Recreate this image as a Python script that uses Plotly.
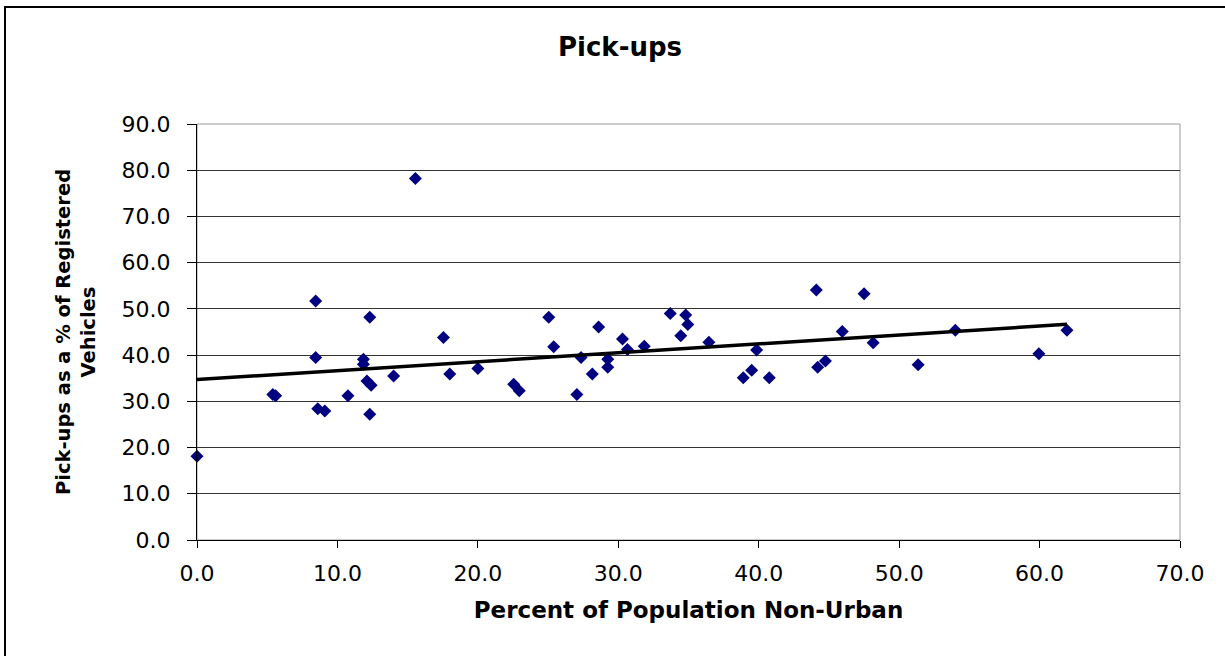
import numpy as np
import plotly.graph_objects as go

# Percent of population living outside urban areas, by state
pct_non_urban = [0.0, 5.4, 5.6, 8.45, 8.45, 8.6, 9.1, 10.75, 11.85, 11.85,
                 12.1, 12.4, 12.3, 12.3, 14.0, 15.55, 17.55, 18.0, 20.0, 22.55,
                 22.95, 25.05, 25.4, 27.05, 27.35, 28.15, 28.6, 29.25, 29.25, 30.3,
                 30.65, 31.85, 33.7, 34.45, 34.8, 34.95, 36.45, 38.9, 39.5, 39.85,
                 40.75, 44.1, 44.2, 44.75, 45.95, 47.5, 48.15, 51.35, 54.0, 59.95,
                 61.95]
# Pick-ups as a share of registered vehicles
pickup_share = [18.1, 31.5, 31.2, 51.7, 39.5, 28.4, 27.9, 31.2, 39.1, 38.0,
                34.4, 33.5, 48.2, 27.2, 35.5, 78.2, 43.8, 35.9, 37.1, 33.7,
                32.3, 48.2, 41.8, 31.5, 39.5, 35.9, 46.1, 39.1, 37.4, 43.5,
                41.2, 41.9, 49.0, 44.2, 48.7, 46.6, 42.8, 35.1, 36.7, 41.1,
                35.1, 54.1, 37.4, 38.7, 45.1, 53.3, 42.7, 37.9, 45.4, 40.3,
                45.4]

x_ticks = [0, 10, 20, 30, 40, 50, 60, 70]
y_ticks = [0, 10, 20, 30, 40, 50, 60, 70, 80, 90]

# Linear least-squares trend over the data range
slope, intercept = np.polyfit(pct_non_urban, pickup_share, 1)
trend_x = [0.0, max(pct_non_urban)]
trend_y = [intercept + slope * v for v in trend_x]

FONT = "DejaVu Sans"
W, H = 1225, 656
L, R, T, B = 197, 45, 124, 116
pw, ph = W - L - R, H - T - B

fig = go.Figure()
fig.add_trace(go.Scatter(
    x=pct_non_urban, y=pickup_share, mode="markers",
    marker=dict(symbol="diamond", size=10, color="#000080",
                line=dict(width=0)),
    cliponaxis=False, showlegend=False, hoverinfo="x+y",
))
fig.add_trace(go.Scatter(
    x=trend_x, y=trend_y, mode="lines",
    line=dict(color="black", width=3.5),
    showlegend=False, hoverinfo="skip",
))

fig.update_layout(
    width=W, height=H,
    margin=dict(l=L, r=R, t=T, b=B, autoexpand=False),
    paper_bgcolor="white", plot_bgcolor="white",
    font=dict(family=FONT, color="black"),
    title=dict(text="<b>Pick-ups</b>", x=620 / W, xref="container", xanchor="center",
               y=1 - 47 / H, yref="container", yanchor="middle",
               font=dict(family=FONT, size=26, color="black")),
    xaxis=dict(
        range=[0, 70], tickvals=x_ticks, ticktext=[f"{v:.1f}" for v in x_ticks],
        showgrid=False, zeroline=False,
        showline=True, linecolor="black", linewidth=1,
        ticks="outside", ticklen=7, tickcolor="black", tickwidth=1,
        tickfont=dict(family=FONT, size=22, color="black"),
        ticklabelstandoff=7,
        title=dict(text="<b>Percent of Population Non-Urban</b>", standoff=16,
                   font=dict(family=FONT, size=23, color="black")),
        automargin=False,
    ),
    yaxis=dict(
        range=[0, 90], tickvals=y_ticks, ticktext=[f"{v:.1f}" for v in y_ticks],
        showgrid=True, gridcolor="#333333", gridwidth=1, zeroline=False,
        showline=True, linecolor="black", linewidth=1,
        ticks="outside", ticklen=9, tickcolor="black", tickwidth=1,
        tickfont=dict(family=FONT, size=22, color="black"),
        ticklabelstandoff=12,
        title=dict(text="<b>Pick-ups as a % of Registered<br>Vehicles</b>", standoff=20,
                   font=dict(family=FONT, size=19.5, color="black")),
        automargin=False,
    ),
    shapes=[
        # plot-area frame on the top and right
        dict(type="rect", xref="paper", yref="paper", x0=0, x1=1, y0=0, y1=1,
             line=dict(color="#999999", width=1), layer="below"),
        # outer chart border
        dict(type="rect", xref="paper", yref="paper",
             x0=(5 - L) / pw, x1=(W + 20 - L) / pw,
             y0=-(H + 20 - T - ph) / ph, y1=(T + ph - 7) / ph,
             line=dict(color="black", width=2), layer="above"),
    ],
)

fig.write_html("out.html")
